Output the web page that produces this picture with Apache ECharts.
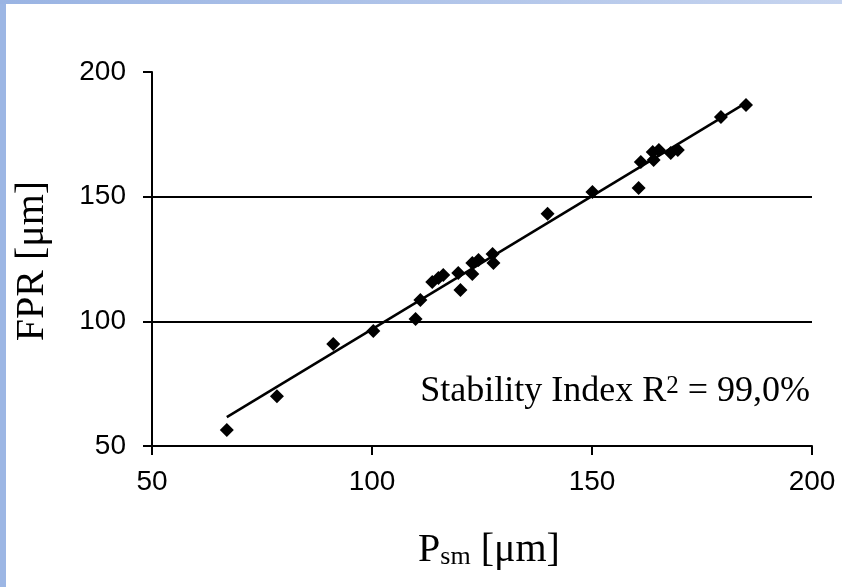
<!DOCTYPE html>
<html>
<head>
<meta charset="utf-8">
<script src="https://cdn.jsdelivr.net/npm/echarts@6/dist/echarts.min.js"></script>
<style>
  html, body { margin: 0; padding: 0; background: #fff; }
  #chart { width: 842px; height: 587px; }
</style>
</head>
<body>
<div id="chart"></div>
<script>
// values
const psm = [67, 78.4, 91.2, 100.3, 109.9, 111, 113.7, 115.1, 116.2, 119.6, 120.1, 122.8, 122.8, 124.2,
  127.4, 127.6, 139.9, 150.1, 160.6, 161.1, 164.0, 163.8, 165.2, 167.9, 169.5, 179.3, 185.0];
const fpr = [56.4, 70, 90.9, 96.1, 100.9, 108.6, 115.8, 117.4, 118.6, 119.4, 112.6, 119.0, 123.4, 124.6,
  127.0, 123.4, 143.1, 151.9, 153.5, 163.9, 164.7, 167.9, 168.7, 167.5, 168.7, 182.0, 186.8];
// fitted line ends
const trendX = [67, 185];
const trendY = [61.6, 187.6];
const axisTicks = [50, 100, 150, 200];

const points = psm.map((x, i) => [x, fpr[i]]);
const trend = trendX.map((x, i) => [x, trendY[i]]);

const chart = echarts.init(document.getElementById('chart'));

const axisStyle = {
  min: axisTicks[0],
  max: axisTicks[axisTicks.length - 1],
  interval: 50,
  axisLine: { show: true, lineStyle: { color: '#000', width: 2 } },
  axisTick: { show: true, inside: false, length: 9, lineStyle: { color: '#000', width: 2 } },
  axisLabel: { color: '#000', fontFamily: 'Liberation Sans', fontSize: 28 }
};

chart.setOption({
  animation: false,
  backgroundColor: '#fff',
  grid: { left: 152, right: 30, top: 72, bottom: 141, containLabel: false },
  xAxis: Object.assign({}, axisStyle, {
    type: 'value',
    axisLabel: Object.assign({}, axisStyle.axisLabel, { margin: 22 }),
    splitLine: { show: false }
  }),
  yAxis: Object.assign({}, axisStyle, {
    type: 'value',
    axisLabel: Object.assign({}, axisStyle.axisLabel, { margin: 26 }),
    splitLine: {
      show: true,
      // no grid line at the top value
      lineStyle: { color: ['#000', '#000', '#000', 'rgba(0,0,0,0)'], width: 2 }
    }
  }),
  series: [
    {
      type: 'line',
      data: trend,
      symbol: 'none',
      lineStyle: { color: '#000', width: 2.5 },
      z: 2
    },
    {
      type: 'scatter',
      data: points,
      symbol: 'diamond',
      symbolSize: 14,
      itemStyle: { color: '#000', opacity: 1 },
      z: 3
    }
  ],
  graphic: [
    {
      type: 'rect',
      shape: { x: 0, y: 0, width: 6, height: 587 },
      style: { fill: '#9cb6e4' },
      silent: true
    },
    {
      type: 'rect',
      shape: { x: 0, y: 0, width: 842, height: 4 },
      style: {
        fill: new echarts.graphic.LinearGradient(0, 0, 1, 0, [
          { offset: 0, color: '#9ab4e3' },
          { offset: 1, color: '#c6d4ef' }
        ])
      },
      silent: true
    },
    {
      type: 'text',
      x: 32, y: 261,
      rotation: Math.PI / 2,
      style: {
        text: 'FPR [μm]',
        fontFamily: 'Liberation Serif',
        fontSize: 40,
        fill: '#000',
        align: 'center',
        verticalAlign: 'middle'
      }
    },
    {
      type: 'text',
      x: 489, y: 548,
      style: {
        text: '{a|P}{b|sm}{a| [μm]}',
        align: 'center',
        verticalAlign: 'middle',
        rich: {
          a: { fontFamily: 'Liberation Serif', fontSize: 40, lineHeight: 44, verticalAlign: 'bottom', fill: '#000' },
          b: { fontFamily: 'Liberation Serif', fontSize: 26, lineHeight: 12, verticalAlign: 'bottom', fill: '#000' }
        }
      }
    },
    {
      type: 'text',
      x: 810, y: 394,
      style: {
        text: '{a|Stability Index R}{s|2}{a| = 99,0%}',
        align: 'right',
        verticalAlign: 'middle',
        rich: {
          a: { fontFamily: 'Liberation Serif', fontSize: 36, lineHeight: 40, verticalAlign: 'top', fill: '#000' },
          s: { fontFamily: 'Liberation Serif', fontSize: 25, lineHeight: 16, verticalAlign: 'top', fill: '#000' }
        }
      }
    }
  ]
});
</script>
</body>
</html>
